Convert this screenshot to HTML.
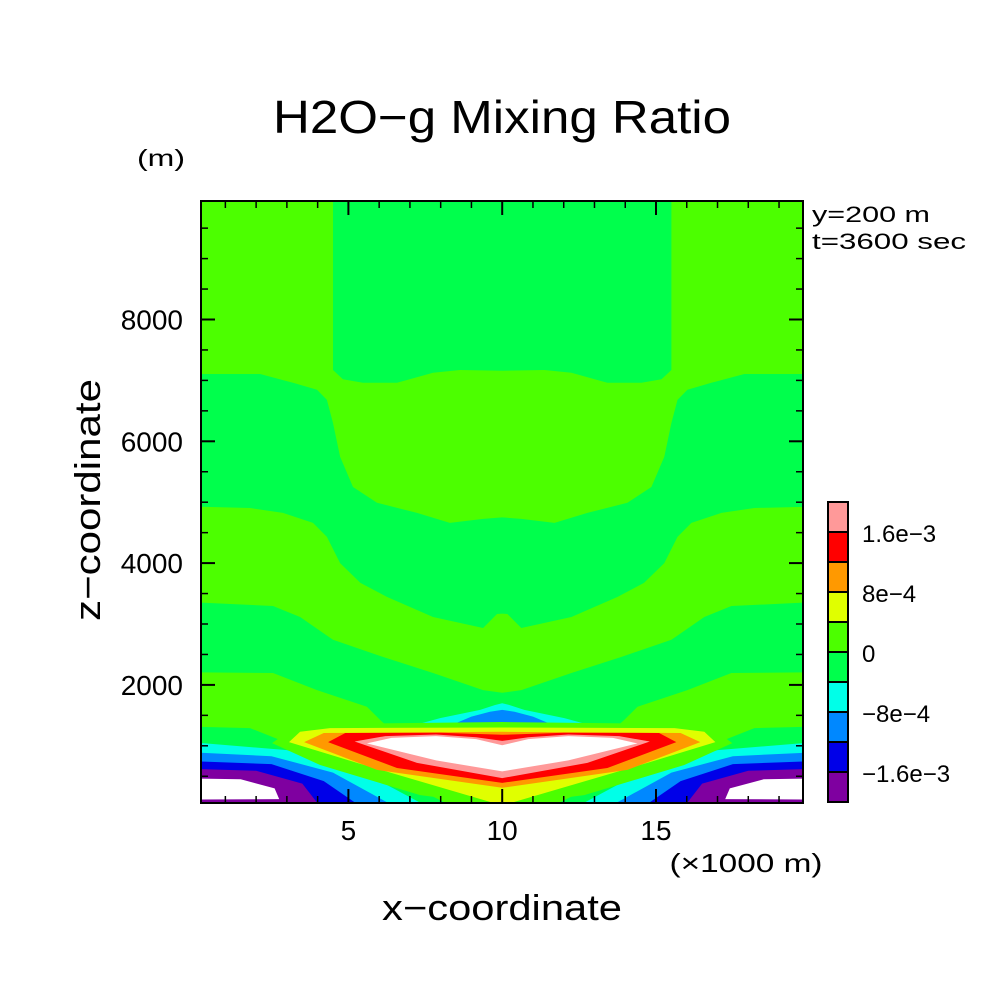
<!DOCTYPE html>
<html><head><meta charset="utf-8">
<style>
html,body{margin:0;padding:0;background:#fff;}
svg{display:block;}
text{font-family:"Liberation Sans",sans-serif;fill:#000;}
</style></head>
<body>
<svg id="chart" width="1004" height="1004" viewBox="0 0 1004 1004" xmlns="http://www.w3.org/2000/svg">
<defs><clipPath id="plotclip"><rect x="201" y="201" width="602" height="602"/></clipPath></defs>
<rect x="0" y="0" width="1004" height="1004" fill="#fff"/>
<text x="502" y="133" font-size="46" text-anchor="middle" textLength="458" lengthAdjust="spacingAndGlyphs">H2O−g Mixing Ratio</text>
<text x="161" y="166" font-size="23" text-anchor="middle" textLength="48" lengthAdjust="spacingAndGlyphs">(m)</text>
<text x="812" y="222" font-size="22" textLength="118" lengthAdjust="spacingAndGlyphs">y=200 m</text>
<text x="812" y="249" font-size="22" textLength="154" lengthAdjust="spacingAndGlyphs">t=3600 sec</text>
<text transform="translate(100,500) rotate(-90)" x="0" y="0" font-size="36" text-anchor="middle" textLength="242" lengthAdjust="spacingAndGlyphs">z−coordinate</text>
<text x="502" y="920" font-size="36" text-anchor="middle" textLength="240" lengthAdjust="spacingAndGlyphs">x−coordinate</text>
<text x="746" y="872" font-size="26" text-anchor="middle" textLength="153" lengthAdjust="spacingAndGlyphs">(×1000 m)</text>
<g id="field" clip-path="url(#plotclip)"></g>
<g id="axes"></g>
<g id="cbar"></g>
</svg>
<script>
// ---- data (x in km, z in m) ----
const xTicksMajor = [5, 10, 15];
const xTickLabels = ["5", "10", "15"];
const zTicksMajor = [2000, 4000, 6000, 8000];
const zTickLabels = ["2000", "4000", "6000", "8000"];
const levelLabels = ["1.6e−3", "8e−4", "0", "−8e−4", "−1.6e−3"];
const levelValues = [1.6e-3, 8e-4, 0, -8e-4, -1.6e-3];
const bandColors = ["#7f00a0","#0000e8","#0088ff","#00ffe8","#00ff4c","#4cff00","#e0ff00","#ff9900","#ff0000","#ff9999"];
const bandMin = -2.0e-3, bandStep = 4e-4;

const colTop = [[4.5,10500],[10,10500]];
const colBottom = [[4.5,10500],[4.5,7170],[4.82,7020],[5.47,6960],[6.58,6960],[7.75,7125],[8.63,7170],[10,7160]];
const band1Top = [[-1,7105],[2.13,7105],[3.2,6960],[3.98,6845],[4.3,6680],[4.5,6300],[4.73,5745],[5.15,5250],[5.93,4990],[7.23,4825],[8.3,4660],[9.38,4725],[10,4750]];
const band1Bottom = [[-1,4940],[1.8,4905],[2.87,4825],[3.85,4660],[4.3,4430],[4.73,4000],[5.39,3675],[6.25,3445],[7.75,3115],[9.38,2935],[9.83,3165],[10,3170]];
const band2Top = [[-1,3380],[2.55,3295],[3.43,3115],[4.5,2740],[6.12,2460],[7.75,2195],[9.38,1915],[10,1870]];
const band2Bottom = [[-1,2210],[2.55,2195],[3.98,1915],[5.6,1640],[6.03,1425],[6.4,1260],[10,1260]];
const lobeGreen = [[-1,1325],[1.8,1290],[2.78,1095],[6.67,440],[8.8,-100]];
const lobeCyan = [[-1,1095],[3.0,930],[5.5,560],[7.95,-100]];
const lobeMblue = [[-1,915],[2.5,830],[4.5,560],[6.88,-100]];
const lobeBlue = [[-1,765],[2.5,700],[4.2,420],[5.7,-100]];
const lobePurple = [[-1,635],[2.0,590],[3.5,380],[4.24,-100]];
const lobeWhite = [[-1,470],[1.5,450],[2.6,300],[2.75,125],[-1,115]];
const domeCyanTop = [[7.07,1330],[7.98,1455],[9.28,1590],[9.77,1670],[10,1700]];
const domeCyanBottom = [[7.07,1330],[10,1330]];
const domeMblueTop = [[8.37,1345],[9.0,1480],[9.6,1560],[10,1590]];
const domeMblueBottom = [[8.37,1345],[10,1345]];
const limeTop = [[2.52,1045],[3.1,1260],[4.4,1360],[10,1390]];
const limeBottom = [[2.52,1045],[4.08,685],[7.33,190],[9.15,75],[9.15,-100],[10,-100]];
const yellowTop = [[3.07,1060],[3.43,1230],[4.4,1290],[10,1300]];
const yellowBottom = [[3.07,1060],[5.28,720],[9.63,75],[9.63,-100],[10,-100]];
const orangeTop = [[3.56,1060],[4.2,1210],[10,1230]];
const orangeBottom = [[3.56,1060],[5.93,605],[10,310]];
const redTop = [[4.34,1060],[4.9,1210],[8,1215],[10,1180]];
const redBottom = [[4.34,1060],[6.58,635],[10,390]];
const pinkTop = [[5.2,1070],[6.2,1160],[7.85,1185],[9.15,1140],[10,1080]];
const pinkBottom = [[5.2,1070],[7.23,720],[10,470]];
const whiteTop = [[5.6,1040],[6.4,1130],[7.85,1160],[9.15,1110],[10,1010]];
const whiteBottom = [[5.6,1040],[7.85,760],[10,580]];

function X(km){ return 194.6 + 30.76*km; }
function Z(m){ return 806.7 - 0.0609*m; }
function colorOf(v){ const i = Math.floor((v - bandMin)/bandStep + 1e-9); return (i<0||i>9) ? "#ffffff" : bandColors[i]; }

const NS = "http://www.w3.org/2000/svg";
const field = document.getElementById("field");
function ptsStr(pts){ return pts.map(p => X(p[0]).toFixed(1)+","+Z(p[1]).toFixed(1)).join(" "); }
function mirror(pts){ return pts.map(p => [20-p[0], p[1]]); }
function addPoly(pts, fill, name){
  const el = document.createElementNS(NS, "polygon");
  el.setAttribute("points", ptsStr(pts));
  el.setAttribute("fill", fill);
  
  
  field.appendChild(el);
}
function band(top, bottom, fill, name){
  const pts = top.concat(mirror(top).reverse(), mirror(bottom), bottom.slice().reverse());
  addPoly(pts, fill, name);
}
function lobe(top, fill, name){
  const last = top[top.length-1];
  const left = top.concat([[last[0], -200], [-1, -200]]);
  addPoly(left, fill, name + "-left");
  addPoly(mirror(left), fill, name + "-right");
}

const bg = document.createElementNS(NS, "rect");
bg.setAttribute("x", X(-1)); bg.setAttribute("y", Z(11000));
bg.setAttribute("width", X(21)-X(-1)); bg.setAttribute("height", Z(-200)-Z(11000));
bg.setAttribute("fill", colorOf(2e-4));


field.appendChild(bg);

band(colTop, colBottom, colorOf(-2e-4), "green-column");
band(band1Top, band1Bottom, colorOf(-2e-4), "green-band-upper");
band(band2Top, band2Bottom, colorOf(-2e-4), "green-band-lower");
lobe(lobeGreen, colorOf(-2e-4), "lobe-green");
lobe(lobeCyan, colorOf(-6e-4), "lobe-cyan");
lobe(lobeMblue, colorOf(-1.0e-3), "lobe-mid-blue");
lobe(lobeBlue, colorOf(-1.4e-3), "lobe-blue");
lobe(lobePurple, colorOf(-1.8e-3), "lobe-purple");
addPoly(lobeWhite, colorOf(-3e-3), "lobe-white-left");
addPoly(mirror(lobeWhite), colorOf(-3e-3), "lobe-white-right");
band(domeCyanTop, domeCyanBottom, colorOf(-6e-4), "dome-cyan");
band(domeMblueTop, domeMblueBottom, colorOf(-1.0e-3), "dome-mid-blue");
band(limeTop, limeBottom, colorOf(2e-4), "heart-lime");
band(yellowTop, yellowBottom, colorOf(6e-4), "heart-yellow");
band(orangeTop, orangeBottom, colorOf(1.0e-3), "heart-orange");
band(redTop, redBottom, colorOf(1.4e-3), "heart-red");
band(pinkTop, pinkBottom, colorOf(1.8e-3), "heart-pink");
band(whiteTop, whiteBottom, colorOf(3e-3), "heart-white");

const axes = document.getElementById("axes");
function line(x1,y1,x2,y2,w,name){
  const l = document.createElementNS(NS, "line");
  l.setAttribute("x1",x1); l.setAttribute("y1",y1); l.setAttribute("x2",x2); l.setAttribute("y2",y2);
  l.setAttribute("stroke","#000"); l.setAttribute("stroke-width",w);
  
  
  axes.appendChild(l);
}
function txt(parent,x,y,s,size,anchor,name){
  const t = document.createElementNS(NS, "text");
  t.setAttribute("x",x); t.setAttribute("y",y); t.setAttribute("font-size",size);
  t.setAttribute("text-anchor",anchor); t.textContent = s;
  
  
  parent.appendChild(t);
}
const frame = document.createElementNS(NS, "rect");
frame.setAttribute("x",201); frame.setAttribute("y",201); frame.setAttribute("width",602); frame.setAttribute("height",602);
frame.setAttribute("fill","none"); frame.setAttribute("stroke","#000"); frame.setAttribute("stroke-width",2);


axes.appendChild(frame);
for(let k=1;k<=19;k++){
  const major = xTicksMajor.indexOf(k) >= 0; const len = major?14:7; const x = X(k);
  line(x,803,x,803-len,major?2:1.5,"x-tick");
  line(x,201,x,201+len,major?2:1.5,"x-tick-top");
}
for(let m=500;m<=9500;m+=500){
  const major = zTicksMajor.indexOf(m) >= 0; const len = major?14:7; const y = Z(m);
  line(201,y,201+len,y,major?2:1.5,"z-tick");
  line(803,y,803-len,y,major?2:1.5,"z-tick-right");
}
xTicksMajor.forEach((v,i)=>txt(axes,X(v),840,xTickLabels[i],28,"middle","x-tick-label"));
zTicksMajor.forEach((v,i)=>txt(axes,183,Z(v)+10,zTickLabels[i],28,"end","z-tick-label"));

const cbar = document.getElementById("cbar");
const cbTop = 502, cbH = 30, cbX = 828, cbW = 20;
bandColors.forEach((c,i)=>{
  const r = document.createElementNS(NS, "rect");
  r.setAttribute("x",cbX); r.setAttribute("y",cbTop + (9-i)*cbH); r.setAttribute("width",cbW); r.setAttribute("height",cbH);
  r.setAttribute("fill",c); r.setAttribute("stroke","#000"); r.setAttribute("stroke-width",2);
  
  
  cbar.appendChild(r);
});
levelValues.forEach((v,i)=>{
  const y = cbTop + (10 - (v - bandMin)/bandStep)*cbH;
  txt(cbar,862,y+10,levelLabels[i],24,"start","colorbar-label");
});
</script>
</body></html>
